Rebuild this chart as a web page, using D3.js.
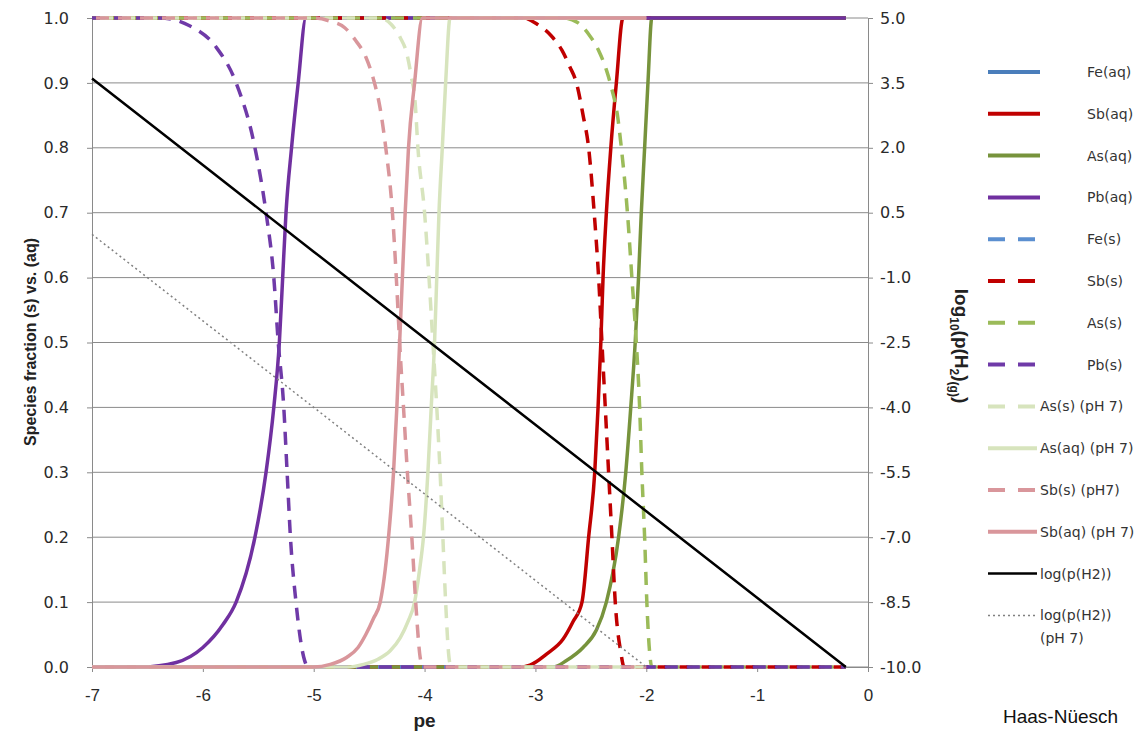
<!DOCTYPE html>
<html><head><meta charset="utf-8">
<script src="https://cdn.jsdelivr.net/npm/d3@7"></script>
<style>body{margin:0;background:#fff}svg{display:block}</style>
</head><body>
<svg id="c" width="1148" height="731"></svg>
<script>
// ---- data (pe, value) ----
const peTicks = [-7,-6,-5,-4,-3,-2,-1,0];
const fracTicks = [0,0.1,0.2,0.3,0.4,0.5,0.6,0.7,0.8,0.9,1.0];
const logTicks = [-10,-8.5,-7,-5.5,-4,-2.5,-1,0.5,2,3.5,5];

const feAq = [[-5.07,1],[-0.2,1]];
const sbAq = [[-7,0],[-3.15,0],[-3.05,0.003],[-2.9,0.02],[-2.75,0.043],[-2.66,0.07],[-2.58,0.1],[-2.52,0.2],[-2.465,0.3],[-2.435,0.4],[-2.41,0.5],[-2.39,0.6],[-2.36,0.7],[-2.32,0.8],[-2.27,0.9],[-2.21,1],[-0.2,1]];
const asAq = [[-7,0],[-2.84,0],[-2.72,0.01],[-2.57,0.03],[-2.45,0.057],[-2.36,0.1],[-2.25,0.2],[-2.185,0.3],[-2.14,0.4],[-2.10,0.5],[-2.07,0.6],[-2.045,0.7],[-2.015,0.8],[-1.985,0.9],[-1.95,1],[-0.2,1]];
const pbAq = [[-7,0],[-6.55,0],[-6.24,0.007],[-6.0,0.03],[-5.82,0.065],[-5.70,0.1],[-5.53,0.2],[-5.43,0.3],[-5.36,0.4],[-5.31,0.5],[-5.28,0.6],[-5.25,0.7],[-5.20,0.8],[-5.14,0.9],[-5.07,1],[-0.2,1]];
const feS = [[-7,0],[-0.2,0]];
const sbS = [[-7,1],[-3.11,1],[-2.98,0.99],[-2.86,0.973],[-2.76,0.95],[-2.69,0.925],[-2.63,0.9],[-2.57,0.85],[-2.52,0.8],[-2.47,0.7],[-2.43,0.6],[-2.40,0.5],[-2.37,0.4],[-2.34,0.3],[-2.31,0.2],[-2.28,0.1],[-2.23,0.023],[-2.2,0],[-0.2,0]];
const asS = [[-7,1],[-2.75,1],[-2.62,0.993],[-2.52,0.975],[-2.43,0.95],[-2.36,0.92],[-2.31,0.89],[-2.26,0.85],[-2.225,0.8],[-2.17,0.7],[-2.13,0.6],[-2.09,0.5],[-2.06,0.4],[-2.04,0.3],[-2.015,0.2],[-1.995,0.1],[-1.97,0.023],[-1.95,0],[-0.2,0]];
const pbS = [[-7,1],[-6.39,1],[-6.12,0.988],[-5.88,0.955],[-5.70,0.9],[-5.53,0.8],[-5.43,0.7],[-5.36,0.6],[-5.32,0.5],[-5.27,0.4],[-5.24,0.3],[-5.21,0.2],[-5.16,0.1],[-5.09,0.015],[-5.05,0],[-0.2,0]];
const asS7 = [[-7,1],[-4.40,1],[-4.30,0.99],[-4.22,0.97],[-4.16,0.945],[-4.12,0.91],[-4.085,0.87],[-4.06,0.8],[-4.00,0.7],[-3.96,0.6],[-3.925,0.5],[-3.89,0.4],[-3.86,0.3],[-3.835,0.2],[-3.81,0.1],[-3.78,0.015],[-3.76,0],[-2.0,0]];
const asAq7 = [[-7,0],[-4.7,0],[-4.55,0.004],[-4.42,0.012],[-4.31,0.025],[-4.22,0.045],[-4.15,0.07],[-4.09,0.1],[-4.045,0.15],[-4.01,0.2],[-3.97,0.3],[-3.94,0.4],[-3.91,0.5],[-3.89,0.6],[-3.87,0.7],[-3.84,0.8],[-3.81,0.9],[-3.77,1],[-2.0,1]];
const sbS7 = [[-7,1],[-5.0,1],[-4.85,0.995],[-4.72,0.985],[-4.62,0.965],[-4.53,0.94],[-4.46,0.905],[-4.40,0.86],[-4.35,0.8],[-4.29,0.7],[-4.255,0.6],[-4.225,0.5],[-4.19,0.4],[-4.155,0.3],[-4.115,0.2],[-4.08,0.1],[-4.04,0.015],[-4.02,0],[-2.0,0]];
const sbAq7 = [[-7,0],[-5.0,0],[-4.85,0.004],[-4.70,0.015],[-4.60,0.03],[-4.53,0.05],[-4.46,0.075],[-4.40,0.1],[-4.355,0.15],[-4.325,0.2],[-4.28,0.3],[-4.25,0.4],[-4.225,0.5],[-4.20,0.6],[-4.175,0.7],[-4.145,0.8],[-4.09,0.9],[-4.02,1],[-2.0,1]];
const logH2 = [[-7,3.6],[-6,1.6],[-5,-0.4],[-4,-2.4],[-3,-4.4],[-2,-6.4],[-1,-8.4],[-0.2,-10]];
const logH2pH7 = [[-7,0],[-6,-2],[-5,-4],[-4,-6],[-3,-8],[-2,-10]];

const legendLabels = ["Fe(aq)","Sb(aq)","As(aq)","Pb(aq)","Fe(s)","Sb(s)","As(s)","Pb(s)","As(s) (pH 7)","As(aq) (pH 7)","Sb(s) (pH7)","Sb(aq) (pH 7)","log(p(H2))","log(p(H2))"];

// ---- drawing ----
const svg = d3.select("#c");
svg.append("rect").attr("width",1148).attr("height",731).attr("fill","#fff");
const x = d3.scaleLinear().domain([-7,0]).range([92,868]);
const yL = d3.scaleLinear().domain([0,1]).range([667,18]);
const yR = d3.scaleLinear().domain([-10,5]).range([667,18]);
const grid = "#8a8a8a";
const fmt1 = d => d3.format(".1f")(d).replace("\u2212","-");
const fmt0 = d => d3.format("d")(d).replace("\u2212","-");

// gridlines
svg.append("g").selectAll("line").data(fracTicks).join("line")
  .attr("x1",x(-7)).attr("x2",x(0)).attr("y1",d=>yL(d)).attr("y2",d=>yL(d))
  .attr("stroke",grid).attr("stroke-width",1);

const tickFont = "DejaVu Sans, Verdana, sans-serif";
function styleAxis(g){
  g.select(".domain").attr("stroke",grid);
  g.selectAll(".tick line").attr("stroke",grid);
  g.selectAll(".tick text").attr("fill","#2a2a2a");
}
svg.append("g").attr("transform",`translate(${x(-7)},0)`)
  .call(d3.axisLeft(yL).tickValues(fracTicks).tickFormat(fmt1).tickSize(5).tickPadding(18).tickSizeOuter(0))
  .call(styleAxis)
  .call(g=>g.selectAll(".tick text").attr("font-family",tickFont).attr("font-size",16));
svg.append("g").attr("transform",`translate(${x(0)},0)`)
  .call(d3.axisRight(yR).tickValues(logTicks).tickFormat(fmt1).tickSize(5).tickPadding(7).tickSizeOuter(0))
  .call(styleAxis)
  .call(g=>g.selectAll(".tick text").attr("font-family",tickFont).attr("font-size",16));
svg.append("g").attr("transform",`translate(0,${yL(0)})`)
  .call(d3.axisBottom(x).tickValues(peTicks).tickFormat(fmt0).tickSize(5).tickPadding(17).tickSizeOuter(0))
  .call(styleAxis)
  .call(g=>g.selectAll(".tick text").attr("font-family","Liberation Sans Narrow, Arial Narrow, Liberation Sans, sans-serif").attr("font-size",17));

// series definitions
const C = {fe:"#4a7ebb", sb:"#c00000", as:"#77933c", pb:"#7030a0", feS:"#5b8fd0", asS:"#9bbb59", as7:"#d7e4bd", sb7:"#d9969b"};
const dash = "13,9";
const series = [
  {d:feAq, c:C.fe, w:3.5},
  {d:sbAq, c:C.sb, w:3.5},
  {d:asAq, c:C.as, w:3.5},
  {d:pbAq, c:C.pb, w:3.5},
  {d:feS, c:C.feS, w:3.5, dash},
  {d:sbS, c:C.sb, w:3.5, dash, off:5},
  {d:asS, c:C.asS, w:3.5, dash, off:9},
  {d:pbS, c:"#6f3aa8", w:3.5, dash},
  {d:asS7, c:C.as7, w:3.5, dash, off:14},
  {d:asAq7, c:C.as7, w:3.5},
  {d:sbS7, c:C.sb7, w:3.5, dash, off:18},
  {d:sbAq7, c:C.sb7, w:3.5},
  {d:logH2, c:"#000", w:2.5, right:true},
  {d:logH2pH7, c:"#808080", w:1.5, dash:"2,3", right:true}
];
const plot = svg.append("g");
series.forEach(s=>{
  const ys = s.right ? yR : yL;
  const line = d3.line().x(p=>x(p[0])).y(p=>ys(p[1])).curve(s.right?d3.curveLinear:d3.curveMonotoneX);
  plot.append("path").datum(s.d).attr("d",line).attr("fill","none")
    .attr("stroke",s.c).attr("stroke-width",s.w)
    .attr("stroke-dasharray",s.dash||null).attr("stroke-dashoffset",s.off||0)
    .attr("stroke-linejoin","round");
});

// axis titles
svg.append("text").attr("transform","translate(36,342) rotate(-90)")
  .attr("text-anchor","middle").attr("font-family","Liberation Sans Narrow, Arial Narrow, Liberation Sans, sans-serif")
  .attr("font-weight","bold").attr("font-size",16).attr("fill","#222")
  .text("Species  fraction (s) vs. (aq)");
svg.append("text").attr("x",x(-4)).attr("y",727).attr("text-anchor","middle")
  .attr("font-family","Liberation Sans Narrow, Arial Narrow, Liberation Sans, sans-serif")
  .attr("font-weight","bold").attr("font-size",19).attr("fill","#222").text("pe");
const rt = svg.append("text").attr("transform","translate(955,346) rotate(90)")
  .attr("text-anchor","middle").attr("font-family","Liberation Sans, Arial, sans-serif")
  .attr("font-weight","bold").attr("font-size",19).attr("fill","#222");
rt.append("tspan").text("log");
rt.append("tspan").attr("font-size",12).attr("dy",5).text("10");
rt.append("tspan").attr("dy",-5).text("(p(H");
rt.append("tspan").attr("font-size",12).attr("dy",5).text("2");
rt.append("tspan").attr("dy",-5).text(")");
rt.append("tspan").attr("font-size",12).attr("dy",5).text("(g)");
rt.append("tspan").attr("dy",-5).text(")");

// legend
const legY0 = 72, legDy = 41.8;
const lg = svg.append("g");
legendLabels.forEach((lab,i)=>{
  const s = series[i];
  const y = legY0 + i*legDy;
  const short = i>=8;
  lg.append("line").attr("x1",988).attr("x2",short?1037:1040).attr("y1",y).attr("y2",y)
    .attr("stroke",s.c).attr("stroke-width", i>=12 ? (i===12?2.5:1.5) : 4)
    .attr("stroke-dasharray", s.dash ? (i===13?"2,3":"17,13") : null);
  lg.append("text").attr("x",short?1040:1087).attr("y",y+5)
    .attr("font-family",tickFont).attr("font-size",14).attr("fill","#333").text(lab);
  if(i===13){
    lg.append("text").attr("x",1040).attr("y",y+28).attr("font-family",tickFont)
      .attr("font-size",14).attr("fill","#333").text("(pH 7)");
  }
});

svg.append("text").attr("x",1003).attr("y",723).attr("font-family","Liberation Sans, Arial, sans-serif")
  .attr("font-size",19).attr("fill","#111").text("Haas-Nüesch");
</script>
</body></html>
